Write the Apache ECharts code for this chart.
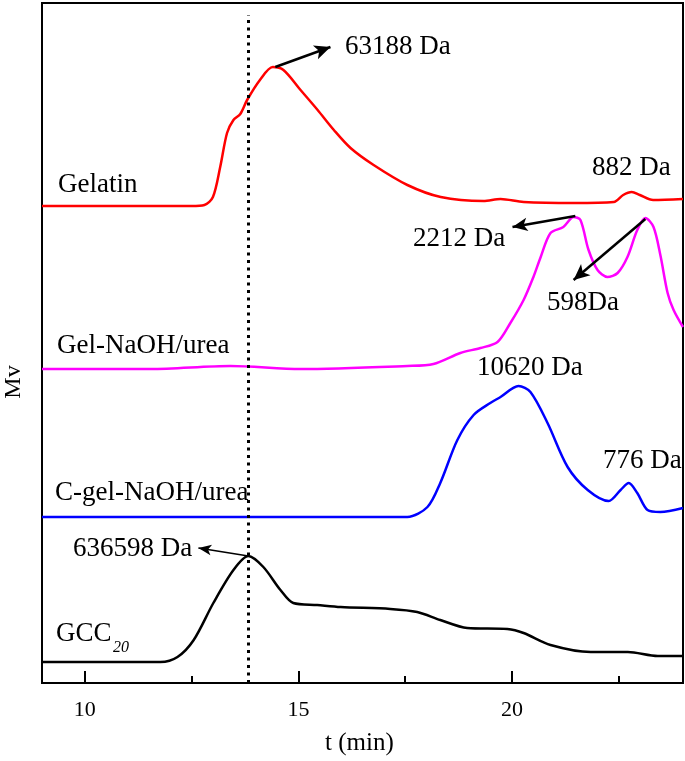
<!DOCTYPE html>
<html>
<head>
<meta charset="utf-8">
<script src="https://cdn.jsdelivr.net/npm/echarts@6/dist/echarts.min.js"></script>
<style>
html,body{margin:0;padding:0;background:#fff;}
#c{width:685px;height:761px;}
</style>
</head>
<body>
<div id="c"></div>
<script>
// ---- data (t in min, signal in arbitrary Mv units, curves offset) ----
const gelatinT = [9, 12.5, 12.8, 13.0, 13.17, 13.33, 13.48, 13.64, 13.8, 14.1, 14.4, 14.65, 15.05, 15.45, 15.83, 16.22, 16.76, 17.55, 18.33, 19.33, 19.73, 20.27, 21.45, 22.38, 22.6, 22.8, 22.99, 23.3, 24];
const gelatinV = [477, 477, 478, 486, 516, 550, 563, 569, 583, 603, 616, 613, 593, 573, 553, 535, 518, 498, 486, 482, 484, 481, 480, 481, 488, 491, 488, 483, 484];

const gelNaT = [9, 11.54, 13.41, 15.05, 17.55, 18.16, 18.79, 19.26, 19.66, 19.96, 20.27, 20.5, 20.67, 20.9, 21.2, 21.44, 21.6, 21.79, 22.0, 22.23, 22.47, 22.7, 22.93, 23.12, 23.31, 23.47, 23.64, 23.78, 24.0];
const gelNaV = [314, 314, 317, 314, 317, 319, 330, 335, 341, 360, 383, 406, 426, 450, 456, 466, 463, 433, 413, 406, 410, 426, 453, 465, 456, 428, 390, 373, 356];

const cgelT = [9, 15.05, 17.55, 18.02, 18.32, 18.72, 19.1, 19.49, 19.73, 20.15, 20.43, 20.83, 21.3, 21.77, 22.26, 22.54, 22.73, 22.93, 23.17, 23.47, 24];
const cgelV = [166, 166, 166, 176, 200, 243, 268, 280, 286, 297, 291, 260, 216, 193, 182, 193, 200, 190, 173, 171, 175];

const gccT = [9, 11.77, 12.17, 12.55, 13.01, 13.48, 13.83, 14.18, 14.58, 14.88, 15.44, 15.99, 17.15, 17.78, 18.32, 18.95, 19.89, 20.27, 20.9, 21.84, 22.71, 23.41, 24];
const gccV = [21, 21, 26, 43, 80, 113, 127, 116, 93, 80, 78, 76, 74, 71, 63, 55, 54, 50, 38, 31, 31, 27, 27];

const majorTicks = [10, 15, 20];
const minorTicks = [12.5, 17.5, 22.5];
const refLineT = 13.83;

// arrows: [fromT, fromV, toT, toV]
const arrow63188 = [14.46, 616, 15.75, 636];
const arrow2212 = [21.48, 467, 20.01, 456];
const arrow598 = [23.12, 464, 21.44, 403];
const arrow636598 = [13.83, 127, 12.66, 135];

const zip = (a, b) => a.map((x, i) => [x, b[i]]);

const FONT = '"Liberation Serif", "Times New Roman", serif';
const chart = echarts.init(document.getElementById('c'), null, {renderer: 'canvas'});

function arrowLine(a, w, size) {
  return {
    silent: true,
    symbol: ['none', 'arrow'],
    symbolSize: size,
    label: {show: false},
    lineStyle: {color: '#000', width: w, type: 'solid'},
    data: [[{coord: [a[0], a[1]]}, {coord: [a[2], a[3]]}]]
  };
}

function txt(x, y, s, size, extra) {
  return Object.assign({
    type: 'text', left: x, top: y - size / 2,
    style: {text: s, font: size + 'px ' + FONT, fill: '#000'}
  }, extra || {});
}

const lineBase = {type: 'line', showSymbol: false, smooth: 0.3, animation: false};

chart.setOption({
  animation: false,
  grid: {left: 42, right: 2, top: 3, bottom: 78, show: true, borderColor: '#000', borderWidth: 2},
  xAxis: [{
    type: 'value', min: 9, max: 24, position: 'bottom',
    axisLine: {show: true, lineStyle: {color: '#000', width: 2}},
    axisTick: {show: true, inside: true, length: 12, customValues: majorTicks, lineStyle: {color: '#000', width: 2}},
    axisLabel: {show: true, customValues: majorTicks, margin: 16, color: '#000', fontSize: 22, fontFamily: 'Liberation Serif'},
    splitLine: {show: false}
  }, {
    type: 'value', min: 9, max: 24, position: 'bottom',
    axisLine: {show: false},
    axisTick: {show: true, inside: true, length: 7, customValues: minorTicks, lineStyle: {color: '#000', width: 2}},
    axisLabel: {show: false},
    splitLine: {show: false}
  }],
  yAxis: {
    type: 'value', min: 0, max: 680,
    axisLine: {show: true, lineStyle: {color: '#000', width: 2}},
    axisTick: {show: false}, axisLabel: {show: false}, splitLine: {show: false}
  },
  series: [
    Object.assign({}, lineBase, {name: 'Gelatin', data: zip(gelatinT, gelatinV), lineStyle: {color: '#ff0000', width: 2.5}, itemStyle: {color: '#ff0000'},
      markLine: arrowLine(arrow63188, 2.5, [11, 16])}),
    Object.assign({}, lineBase, {name: 'Gel-NaOH/urea', data: zip(gelNaT, gelNaV), lineStyle: {color: '#ff00ff', width: 2.5}, itemStyle: {color: '#ff00ff'},
      markLine: arrowLine(arrow2212, 2.5, [10, 15])}),
    Object.assign({}, lineBase, {name: 'C-gel-NaOH/urea', data: zip(cgelT, cgelV), lineStyle: {color: '#0000ff', width: 2.5}, itemStyle: {color: '#0000ff'},
      markLine: arrowLine(arrow598, 2.5, [11, 16])}),
    Object.assign({}, lineBase, {name: 'GCC20', data: zip(gccT, gccV), lineStyle: {color: '#000', width: 2.5}, itemStyle: {color: '#000'},
      markLine: arrowLine(arrow636598, 1.5, [8, 13])}),
    {type: 'line', data: [], markLine: {
      silent: true, symbol: ['none', 'none'], label: {show: false}, animation: false,
      lineStyle: {color: '#000', width: 3, type: [3, 4.5]},
      data: [[{coord: [refLineT, 0]}, {coord: [refLineT, 668]}]]
    }}
  ],
  graphic: [
    txt(345, 47, '63188 Da', 27),
    txt(58, 185, 'Gelatin', 27),
    txt(592, 168, '882 Da', 27),
    txt(413, 239, '2212 Da', 27),
    txt(547, 303, '598Da', 27),
    txt(57, 346, 'Gel-NaOH/urea', 27),
    txt(55, 493, 'C-gel-NaOH/urea', 27),
    txt(477, 368, '10620 Da', 27),
    txt(603, 461, '776 Da', 27),
    txt(73, 549, '636598 Da', 27),
    txt(56, 634, 'GCC', 27),
    {type: 'text', left: 113, top: 640, style: {text: '20', font: 'italic 16px ' + FONT, fill: '#000'}},
    txt(325, 743, 't (min)', 25),
    {type: 'text', x: 14, y: 382, rotation: Math.PI / 2,
      style: {text: 'Mv', font: '24px ' + FONT, fill: '#000', align: 'center', verticalAlign: 'middle'}}
  ]
});
</script>
</body>
</html>
